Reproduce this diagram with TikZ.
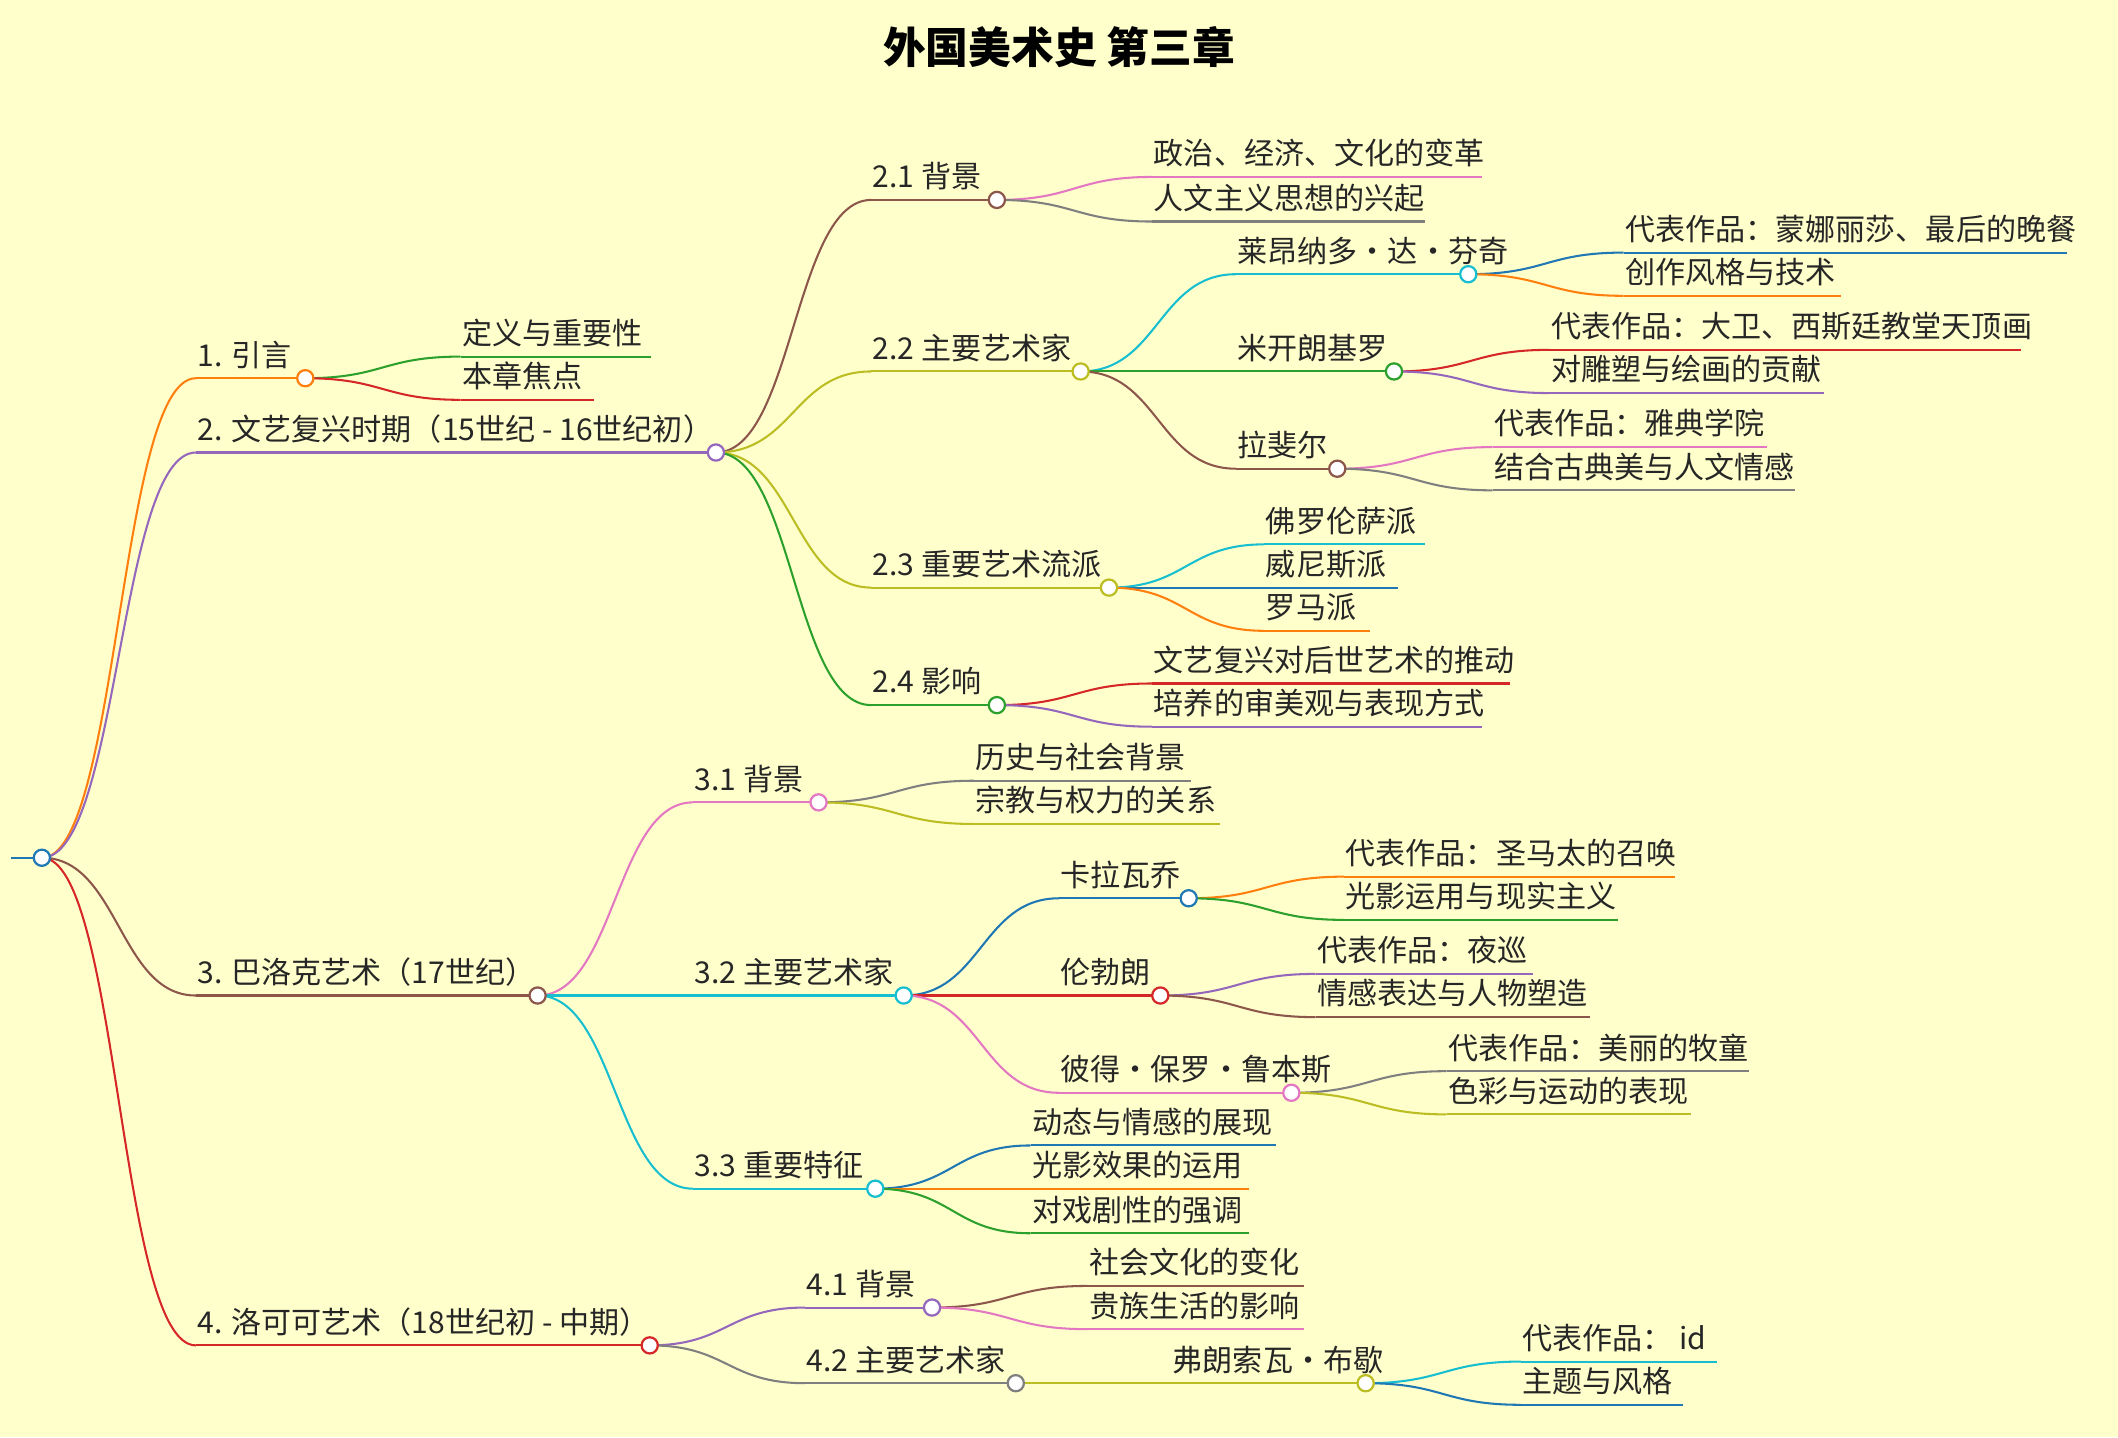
\documentclass[tikz,border=0pt]{standalone}
\usepackage{fontspec}
\setmainfont{Noto Sans CJK SC}
\usetikzlibrary{calc,backgrounds}
\definecolor{bgcolor}{HTML}{FFFFCC}
\definecolor{mblue}{HTML}{1F77B4}
\definecolor{morange}{HTML}{FF7F0E}
\definecolor{mgreen}{HTML}{2CA02C}
\definecolor{mred}{HTML}{D62728}
\definecolor{mpurple}{HTML}{9467BD}
\definecolor{mbrown}{HTML}{8C564B}
\definecolor{mpink}{HTML}{E377C2}
\definecolor{mgray}{HTML}{7F7F7F}
\definecolor{molive}{HTML}{BCBD22}
\definecolor{mcyan}{HTML}{17BECF}
\tikzset{
  txt/.style={inner sep=0pt,anchor=base west,font=\fontsize{19}{22}\selectfont,text=black!85},
  dot/.style={circle,draw=#1,fill=white,line width=1.4pt,minimum size=0.36cm,inner sep=0pt},
  edge/.style={line width=1.3pt}
}
% leaf: name, x0, x1, y, colour, text
\newcommand\leaf[6]{%
  \coordinate (#1) at (#2,#4);
  \begin{pgfonlayer}{background}\draw[edge,#5] (#1) -- (#3,#4);\end{pgfonlayer}
  \node[txt] (#1-t) at (#2+1,#4-9) {#6};}
% hub: name, x0, circle x, y, colour, text
\newcommand\hub[6]{%
  \coordinate (#1) at (#2,#4);
  \node[dot=#5] (#1-c) at (#3,#4) {};
  \begin{pgfonlayer}{background}\draw[edge,#5] (#1) -- (#1-c.center);\end{pgfonlayer}
  \node[txt] (#1-t) at (#2+1,#4-9) {#6};}
% link: from hub, to node, colour
\newcommand\link[3]{%
  \begin{pgfonlayer}{background}
  \draw[edge,#3] let \p1=(#1-c.center), \p2=(#2) in
    (\p1) .. controls ({(\x1+\x2)/2},\y1) and ({(\x1+\x2)/2},\y2) .. (\p2);
  \end{pgfonlayer}}
\begin{document}
\begin{tikzpicture}[x=0.03cm,y=-0.03cm]
  \useasboundingbox (0,0) rectangle (1568,1064);
  \begin{pgfonlayer}{background}
    \fill[bgcolor] (0,0) rectangle (1568,1064);
  \end{pgfonlayer}
  \node[font=\fontsize{27}{30}\selectfont\bfseries] (title) at (784,35) {外国美术史 第三章};

  % root
  \coordinate (root) at (8,635);
  \node[dot=mblue] (root-c) at (31,635) {};
  \begin{pgfonlayer}{background}\draw[edge,mblue] (root) -- (root-c.center);\end{pgfonlayer}

  % 1
  \hub{a}{145}{226}{280}{morange}{1. 引言}
  \link{root}{a}{morange}
  \leaf{a1}{341}{482}{264}{mgreen}{定义与重要性}
  \leaf{a2}{341}{440}{296}{mred}{本章焦点}
  \link{a}{a1}{mgreen}
  \link{a}{a2}{mred}

  % 2
  \hub{b}{145}{530}{335}{mpurple}{2. 文艺复兴时期（15世纪 - 16世纪初）}
  \link{root}{b}{mpurple}
  \hub{b1}{645}{738}{148}{mbrown}{2.1 背景}
  \link{b}{b1}{mbrown}
  \leaf{b11}{853}{1097}{131}{mpink}{政治、经济、文化的变革}
  \leaf{b12}{853}{1055}{164}{mgray}{人文主义思想的兴起}
  \link{b1}{b11}{mpink}
  \link{b1}{b12}{mgray}
  \hub{b2}{645}{800}{275}{molive}{2.2 主要艺术家}
  \link{b}{b2}{molive}
  \hub{b21}{915}{1087}{203}{mcyan}{莱昂纳多·达·芬奇}
  \link{b2}{b21}{mcyan}
  \leaf{b211}{1202}{1530}{187}{mblue}{代表作品：蒙娜丽莎、最后的晚餐}
  \leaf{b212}{1202}{1363}{219}{morange}{创作风格与技术}
  \link{b21}{b211}{mblue}
  \link{b21}{b212}{morange}
  \hub{b22}{915}{1032}{275}{mgreen}{米开朗基罗}
  \link{b2}{b22}{mgreen}
  \leaf{b221}{1147}{1496}{259}{mred}{代表作品：大卫、西斯廷教堂天顶画}
  \leaf{b222}{1147}{1350}{291}{mpurple}{对雕塑与绘画的贡献}
  \link{b22}{b221}{mred}
  \link{b22}{b222}{mpurple}
  \hub{b23}{915}{990}{347}{mbrown}{拉斐尔}
  \link{b2}{b23}{mbrown}
  \leaf{b231}{1105}{1308}{331}{mpink}{代表作品：雅典学院}
  \leaf{b232}{1105}{1329}{363}{mgray}{结合古典美与人文情感}
  \link{b23}{b231}{mpink}
  \link{b23}{b232}{mgray}
  \hub{b3}{645}{821}{435}{molive}{2.3 重要艺术流派}
  \link{b}{b3}{molive}
  \leaf{b31}{936}{1055}{403}{mcyan}{佛罗伦萨派}
  \leaf{b32}{936}{1035}{435}{mblue}{威尼斯派}
  \leaf{b33}{936}{1014}{467}{morange}{罗马派}
  \link{b3}{b31}{mcyan}
  \link{b3}{b32}{mblue}
  \link{b3}{b33}{morange}
  \hub{b4}{645}{738}{522}{mgreen}{2.4 影响}
  \link{b}{b4}{mgreen}
  \leaf{b41}{853}{1118}{506}{mred}{文艺复兴对后世艺术的推动}
  \leaf{b42}{853}{1097}{538}{mpurple}{培养的审美观与表现方式}
  \link{b4}{b41}{mred}
  \link{b4}{b42}{mpurple}

  % 3
  \hub{c}{145}{398}{737}{mbrown}{3. 巴洛克艺术（17世纪）}
  \link{root}{c}{mbrown}
  \hub{c1}{513}{606}{594}{mpink}{3.1 背景}
  \link{c}{c1}{mpink}
  \leaf{c11}{721}{882}{578}{mgray}{历史与社会背景}
  \leaf{c12}{721}{903}{610}{molive}{宗教与权力的关系}
  \link{c1}{c11}{mgray}
  \link{c1}{c12}{molive}
  \hub{c2}{513}{669}{737}{mcyan}{3.2 主要艺术家}
  \link{c}{c2}{mcyan}
  \hub{c21}{784}{880}{665}{mblue}{卡拉瓦乔}
  \link{c2}{c21}{mblue}
  \leaf{c211}{995}{1240}{649}{morange}{代表作品：圣马太的召唤}
  \leaf{c212}{995}{1198}{681}{mgreen}{光影运用与现实主义}
  \link{c21}{c211}{morange}
  \link{c21}{c212}{mgreen}
  \hub{c22}{784}{859}{737}{mred}{伦勃朗}
  \link{c2}{c22}{mred}
  \leaf{c221}{974}{1135}{721}{mpurple}{代表作品：夜巡}
  \leaf{c222}{974}{1177}{753}{mbrown}{情感表达与人物塑造}
  \link{c22}{c221}{mpurple}
  \link{c22}{c222}{mbrown}
  \hub{c23}{784}{956}{809}{mpink}{彼得·保罗·鲁本斯}
  \link{c2}{c23}{mpink}
  \leaf{c231}{1071}{1295}{793}{mgray}{代表作品：美丽的牧童}
  \leaf{c232}{1071}{1252}{825}{molive}{色彩与运动的表现}
  \link{c23}{c231}{mgray}
  \link{c23}{c232}{molive}
  \hub{c3}{513}{648}{880}{mcyan}{3.3 重要特征}
  \link{c}{c3}{mcyan}
  \leaf{c31}{763}{945}{848}{mblue}{动态与情感的展现}
  \leaf{c32}{763}{925}{880}{morange}{光影效果的运用}
  \leaf{c33}{763}{925}{913}{mgreen}{对戏剧性的强调}
  \link{c3}{c31}{mblue}
  \link{c3}{c32}{morange}
  \link{c3}{c33}{mgreen}

  % 4
  \hub{d}{145}{481}{996}{mred}{4. 洛可可艺术（18世纪初 - 中期）}
  \link{root}{d}{mred}
  \hub{d1}{596}{690}{968}{mpurple}{4.1 背景}
  \link{d}{d1}{mpurple}
  \leaf{d11}{805}{965}{952}{mbrown}{社会文化的变化}
  \leaf{d12}{805}{965}{984}{mpink}{贵族生活的影响}
  \link{d1}{d11}{mbrown}
  \link{d1}{d12}{mpink}
  \hub{d2}{596}{752}{1024}{mgray}{4.2 主要艺术家}
  \link{d}{d2}{mgray}
  \hub{d21}{867}{1011}{1024}{molive}{弗朗索瓦·布歇}
  \link{d2}{d21}{molive}
  \leaf{d211}{1126}{1271}{1008}{mcyan}{代表作品： id}
  \leaf{d212}{1126}{1246}{1040}{mblue}{主题与风格}
  \link{d21}{d211}{mcyan}
  \link{d21}{d212}{mblue}
\end{tikzpicture}
\end{document}
